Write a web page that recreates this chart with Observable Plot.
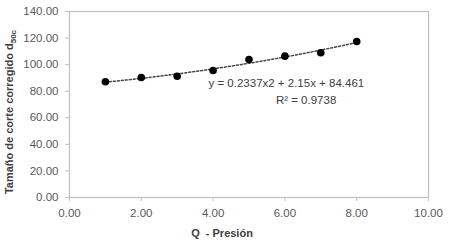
<!DOCTYPE html>
<html><head><meta charset="utf-8">
<script src="https://cdn.jsdelivr.net/npm/d3@7"></script>
<script src="https://cdn.jsdelivr.net/npm/@observablehq/plot@0.6"></script>
<style>
body{margin:0;background:#fff;}
svg{font-family:"Liberation Sans",Arial,sans-serif;}
</style></head>
<body><div id="chart"></div>
<script>
const qValues = [1, 2, 3, 4, 5, 6, 7, 8];
const d50cValues = [87.1, 90.3, 91.3, 95.6, 103.9, 106.4, 108.9, 117.4];
const trendCoefs = [0.2337, 2.15, 84.461]; // a, b, c of y = a x^2 + b x + c
const xTicks = [0, 2, 4, 6, 8, 10];
const yTicks = [0, 20, 40, 60, 80, 100, 120, 140];
const equationText = "y = 0.2337x2 + 2.15x + 84.461";
const r2Text = "R² = 0.9738";
const xTitle = "Q  - Presión";
const yTitle = "Tamaño de corte corregido d";
const ySub = "50c";

const points = qValues.map((q, i) => ({q, d: d50cValues[i]}));
const trend = d3.range(1, 8.001, 0.1).map(q => ({q, d: trendCoefs[0]*q*q + trendCoefs[1]*q + trendCoefs[2]}));

const W = 450, H = 249, mL = 69, mR = 22, mT = 11, mB = 52;
const grey = "#595959";
const chart = Plot.plot({
  width: W, height: H,
  marginLeft: mL, marginRight: mR, marginTop: mT, marginBottom: mB,
  style: {fontSize: "11.5px", color: grey, fontFamily: "'Liberation Sans', Arial, sans-serif"},
  x: {domain: [0, 10], label: null},
  y: {domain: [0, 140], label: null},
  marks: [
    Plot.frame({stroke: "#bfbfbf", strokeWidth: 1.2}),
    Plot.axisX({ticks: xTicks, tickFormat: d => d.toFixed(2), tickSize: 4, tickPadding: 7, stroke: "#bfbfbf", fill: grey}),
    Plot.axisY({ticks: yTicks, tickFormat: d => d.toFixed(2), tickSize: 4, tickPadding: 7, stroke: "#bfbfbf", fill: grey}),
    Plot.line(trend, {x: "q", y: "d", stroke: "#444", strokeWidth: 1.5, strokeDasharray: "2,2"}),
    Plot.dot(points, {x: "q", y: "d", r: 3.8, fill: "black", stroke: "none"}),
    Plot.text([equationText], {x: 6.04, y: 85.6, text: d => d, fill: "#404040", fontSize: 11.5}),
    Plot.text([r2Text], {x: 6.59, y: 73.5, text: d => d, fill: "#404040", fontSize: 11.5})
  ]
});
document.getElementById("chart").appendChild(chart);
const svg = d3.select(chart);
svg.append("text").attr("x", 222).attr("y", 237).attr("text-anchor", "middle")
  .attr("font-weight", "bold").attr("font-size", 11).attr("fill", "#404040").text(xTitle);
const yt = svg.append("text").attr("transform", "translate(13,112) rotate(-90)").attr("text-anchor", "middle")
  .attr("font-weight", "bold").attr("font-size", 11).attr("fill", "#404040");
yt.append("tspan").text(yTitle);
yt.append("tspan").attr("font-size", 8).attr("dy", 3).text(ySub);
</script></body></html>
